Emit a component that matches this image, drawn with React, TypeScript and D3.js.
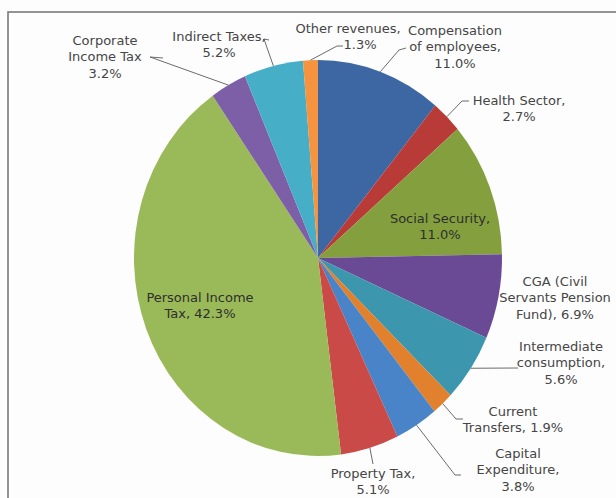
import React from "react";
import * as d3 from "d3";

// ---- data ----
const categories = [
  "Compensation of employees",
  "Health Sector",
  "Social Security",
  "CGA (Civil Servants Pension Fund)",
  "Intermediate consumption",
  "Current Transfers",
  "Capital Expenditure",
  "Property Tax",
  "Personal Income Tax",
  "Corporate Income Tax",
  "Indirect Taxes",
  "Other revenues",
];
const values = [11.0, 2.7, 11.0, 6.9, 5.6, 1.9, 3.8, 5.1, 42.3, 3.2, 5.2, 1.3];
const labelLines: string[][] = [
  ["Compensation", "of employees,", "11.0%"],
  ["Health Sector,", "2.7%"],
  ["Social Security,", "11.0%"],
  ["CGA (Civil", "Servants Pension", "Fund), 6.9%"],
  ["Intermediate", "consumption,", "5.6%"],
  ["Current", "Transfers, 1.9%"],
  ["Capital", "Expenditure,", "3.8%"],
  ["Property Tax,", "5.1%"],
  ["Personal Income", "Tax, 42.3%"],
  ["Corporate", "Income Tax", "3.2%"],
  ["Indirect Taxes,", "5.2%"],
  ["Other revenues,", "1.3%"],
];

// ---- styles / layout ----
const colors = [
  "#3d67a3", "#b93b37", "#84a03e", "#6a4a95", "#3b96ae", "#e2812d",
  "#4a84c8", "#c94a47", "#9aba59", "#7d5fa8", "#47aec8", "#f6933f",
];
const W = 616, H = 498;
const cx = 318, cy = 258, rx = 184, ry = 198;
const LH = 16.8;
// label block centre (x, y of first line centre), per-line x shifts and leader bends
type LL = { x: number; y: number; dx?: number[]; bend?: [number, number][]; inside?: boolean };
const layout: LL[] = [
  { x: 455, y: 30, bend: [[399, 50], [406, 48]] },
  { x: 519, y: 100, bend: [[462, 101], [469, 101]] },
  { x: 440, y: 218, inside: true },
  { x: 555, y: 281 },
  { x: 561, y: 346, bend: [[518, 368]] },
  { x: 513, y: 411, bend: [[456, 419], [463, 419]] },
  { x: 518, y: 453, bend: [[455, 475], [461, 475]] },
  { x: 373, y: 473, bend: [[373, 464]] },
  { x: 200, y: 297, inside: true },
  { x: 105, y: 40, bend: [[150, 57], [163, 58]] },
  { x: 219, y: 36, bend: [[264, 39], [269, 40]] },
  { x: 348, y: 28, dx: [0, 12], bend: [[337, 46], [343, 46]] },
];

export default function App() {
  const pie = d3.pie<number>().sort(null).value((d) => d);
  const arcs = pie(values);
  const arc = d3.arc<d3.PieArcDatum<number>>().innerRadius(0).outerRadius(ry);
  const edge = (a: number): [number, number] => [cx + rx * Math.sin(a), cy - ry * Math.cos(a)];
  const line = d3.line();

  return (
    <svg
      width={W}
      height={H}
      style={{ position: "absolute", left: 0, top: 0, background: "#fdfdfd" }}
      fontFamily="'DejaVu Sans', sans-serif"
    >
      <rect x={8} y={12} width={700} height={600} fill="#fdfdfd" stroke="#7a7a7a" strokeWidth={1.6} />
      <g transform={`translate(${cx},${cy}) scale(${rx / ry},1)`}>
        {arcs.map((a, i) => (
          <path key={categories[i]} d={arc(a) || ""} fill={colors[i]} />
        ))}
      </g>
      {arcs.map((a, i) => {
        const L = layout[i];
        if (!L.bend) return null;
        const mid = (a.startAngle + a.endAngle) / 2;
        const e = edge(mid);
        const pts: [number, number][] = [e, ...L.bend];
        return (
          <path key={"l" + i} d={line(pts) || ""} fill="none" stroke="#6b6b6b" strokeWidth={1} />
        );
      })}
      {labelLines.map((lines, i) => {
        const L = layout[i];
        return (
          <text
            key={"t" + i}
            textAnchor="middle"
            fontSize={13}
            fill={L.inside ? "#2e2e2e" : "#454545"}
          >
            {lines.map((s, j) => (
              <tspan key={j} x={L.x + (L.dx ? L.dx[j] : 0)} y={L.y + j * LH} dy="0.35em">
                {s}
              </tspan>
            ))}
          </text>
        );
      })}
    </svg>
  );
}
